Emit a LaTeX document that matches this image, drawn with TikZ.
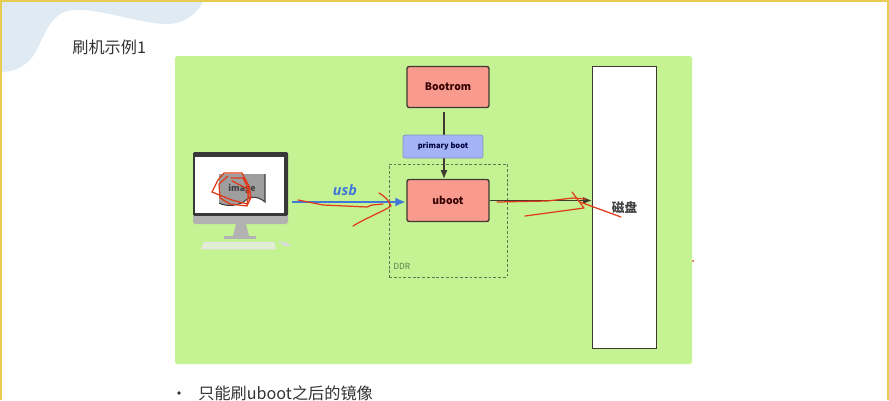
\documentclass[tikz,border=0pt]{standalone}
\usepackage{fontspec}
\setmainfont{Noto Sans CJK SC}
\newfontfamily\usbfont{Open Sans}
\usetikzlibrary{arrows.meta}
\definecolor{slidegreen}{HTML}{C5F394}
\definecolor{boxred}{HTML}{F89B8E}
\definecolor{boxblue}{HTML}{A3B3F5}
\definecolor{linedark}{HTML}{3E3A30}
\definecolor{scribble}{HTML}{E03A18}
\definecolor{usbblue}{HTML}{3F78D8}
\definecolor{blobblue}{HTML}{DFEAF3}
\definecolor{frameyellow}{HTML}{E6CC50}
\definecolor{ddrgreen}{HTML}{5E7A50}
\tikzset{
	redbox/.style = {draw = linedark, line width = 0.8pt, fill = boxred, rounded corners = 1.2pt, inner sep = 0pt, text = black!65!red!60!black, font = \fontsize{5.9}{7}\selectfont\bfseries, text width = 1.64cm, align = center},
	bluebox/.style = {draw = boxblue!80!black, line width = 0.4pt, fill = boxblue, rounded corners = 1.2pt, inner sep = 0pt, text = black!60!blue!60!black, font = \fontsize{4.3}{6}\selectfont\bfseries},
	link/.style = {draw = linedark, line width = 0.8pt, -{Latex[length = 5pt, width = 4pt]}},
	scrawl/.style = {draw = scribble, line width = 0.7pt, line cap = round, line join = round},
	pagetext/.style = {inner sep = 0pt, anchor = west, text = black!80, font = \fontsize{9.2}{11}\selectfont}
}
\begin{document}
\begin{tikzpicture}[x = 0.02cm, y = -0.02cm]
	\useasboundingbox (0, 0) rectangle (889, 400);
	% page
	\fill[white] (0, 0) rectangle (889, 400);
	\fill[blobblue] (0, 0) -- (204, 0) .. controls (196, 16) and (182, 24) .. (167, 24)
		.. controls (140, 24) and (100, 8) .. (73, 10)
		.. controls (48, 12) and (44, 40) .. (33, 56)
		.. controls (24, 68) and (12, 72) .. (0, 72) -- cycle;
	\draw[frameyellow, line width = 1.2pt] (0.5, 400) -- (0.5, 1) -- (888.5, 1) -- (888.5, 400);
	\node[pagetext] (title) at (72, 47) {刷机示例1};
	\fill[slidegreen, rounded corners = 1pt] (175, 56) rectangle (692, 364);
	\fill[black!80] (179, 393) circle [radius = 1.8];
	\node[pagetext] (note) at (198, 393) {只能刷uboot之后的镜像};
	% monitor
	\fill[black!78, rounded corners = 0.8pt] (193, 152) rectangle (288, 216);
	\fill[white] (195, 157) rectangle (284, 213);
	\fill[black!30] (193, 216) -- (288, 216) -- (288, 222) -- (286, 224) -- (195, 224) -- (193, 222) -- cycle;
	\fill[black!30] (236, 224) -- (246, 224) -- (249, 236) -- (233, 236) -- cycle;
	\fill[black!30] (224, 236) rectangle (256, 238.5);
	\fill[white!90!black] (204, 242) -- (274, 242) -- (276, 249) -- (201, 249) -- cycle;
	\foreach \rowy in {244, 246}
		\draw[slidegreen!60!white, line width = 0.25pt] (204, \rowy) -- (274, \rowy);
	\fill[black!15] (278, 241) -- (288, 243) -- (291, 246) -- (284, 246) -- cycle;
	% image file on the screen
	\fill[black!38] (219, 174) -- (265, 174) -- (265, 202) .. controls (258, 196) and (250, 196) .. (246, 200)
		.. controls (240, 206) and (226, 207) .. (219, 203) -- cycle;
	\draw[black!75, line width = 0.6pt] (219, 203) .. controls (226, 207) and (240, 206) .. (246, 200)
		.. controls (250, 196) and (258, 196) .. (265, 202) -- (265, 174);
	\node[inner sep = 0pt, text = black!75, font = \fontsize{5}{6}\selectfont\bfseries] (image) at (242, 188.5) {image};
	% boxes
	\node[redbox, minimum height = 0.82cm] (Bootrom) at (448, 87) {Bootrom};
	\node[redbox, minimum height = 0.84cm] (uboot) at (448, 200.5) {uboot};
	\node[draw = ddrgreen, dash pattern = on 1.6pt off 1.1pt, line width = 0.5pt, minimum width = 2.36cm, minimum height = 2.26cm, inner sep = 0pt] (DDR) at (448, 220.5) {};
	\node[inner sep = 0pt, anchor = west, text = ddrgreen, font = \fontsize{4.8}{6}\selectfont] (DDRlabel) at (393, 266) {DDR};
	\node[draw = linedark, line width = 0.9pt, fill = white, minimum width = 1.28cm, minimum height = 5.64cm, inner sep = 0pt] (disk) at (624.5, 207.5) {};
	\node[inner sep = 0pt, text = black!75, font = \fontsize{7.2}{9}\selectfont\bfseries] (disklabel) at (624.5, 208) {磁盘};
	% connectors
	\coordinate (bootout) at (444, 112);
	\coordinate (ubootin) at (444, 179);
	\coordinate (usbout) at (292, 202);
	\coordinate (usbin) at (406, 202);
	\coordinate (diskin) at (592, 200.5);
	\draw[link] (bootout) -- (ubootin);
	\node[bluebox, minimum width = 1.6cm, minimum height = 0.46cm] (primary) at (443, 146.5) {primary boot};
	\draw[link] (uboot.east) -- (diskin);
	\draw[draw = usbblue, line width = 1.6pt, -{Latex[length = 6pt, width = 5pt]}] (usbout) -- (usbin);
	\node[inner sep = 0pt, text = usbblue, font = \fontsize{8.2}{9}\selectfont\usbfont\bfseries\itshape] (usb) at (345, 190) {usb};
	% red pen marks
	\draw[scrawl] (298, 200) -- (323, 205) -- (367, 207) -- (372, 205) -- (383, 204);
	\draw[scrawl] (379, 193) .. controls (386, 197) and (389, 201) .. (391, 206) .. controls (382, 212) and (366, 218) .. (353, 226);
	\draw[scrawl] (497, 202) -- (547, 201) -- (573, 198) -- (586, 199);
	\draw[scrawl] (572, 192) -- (584, 208) -- (525, 216);
	\draw[scrawl] (580, 202) -- (621, 217);
	\draw[scrawl] (231, 178) -- (243, 178) -- (249, 190) -- (247, 204) -- (232, 200) -- (212, 192) -- (218, 180) -- (224, 173) -- (242, 173)
		-- (249, 186) -- (251, 197) -- (247, 206) -- (230, 204) -- (220, 198) -- (219, 184) -- (228, 176);
	\draw[scrawl] (232, 181) -- (246, 188) -- (250, 200);
	\fill[scribble] (693, 261) circle [radius = 1];
\end{tikzpicture}
\end{document}
